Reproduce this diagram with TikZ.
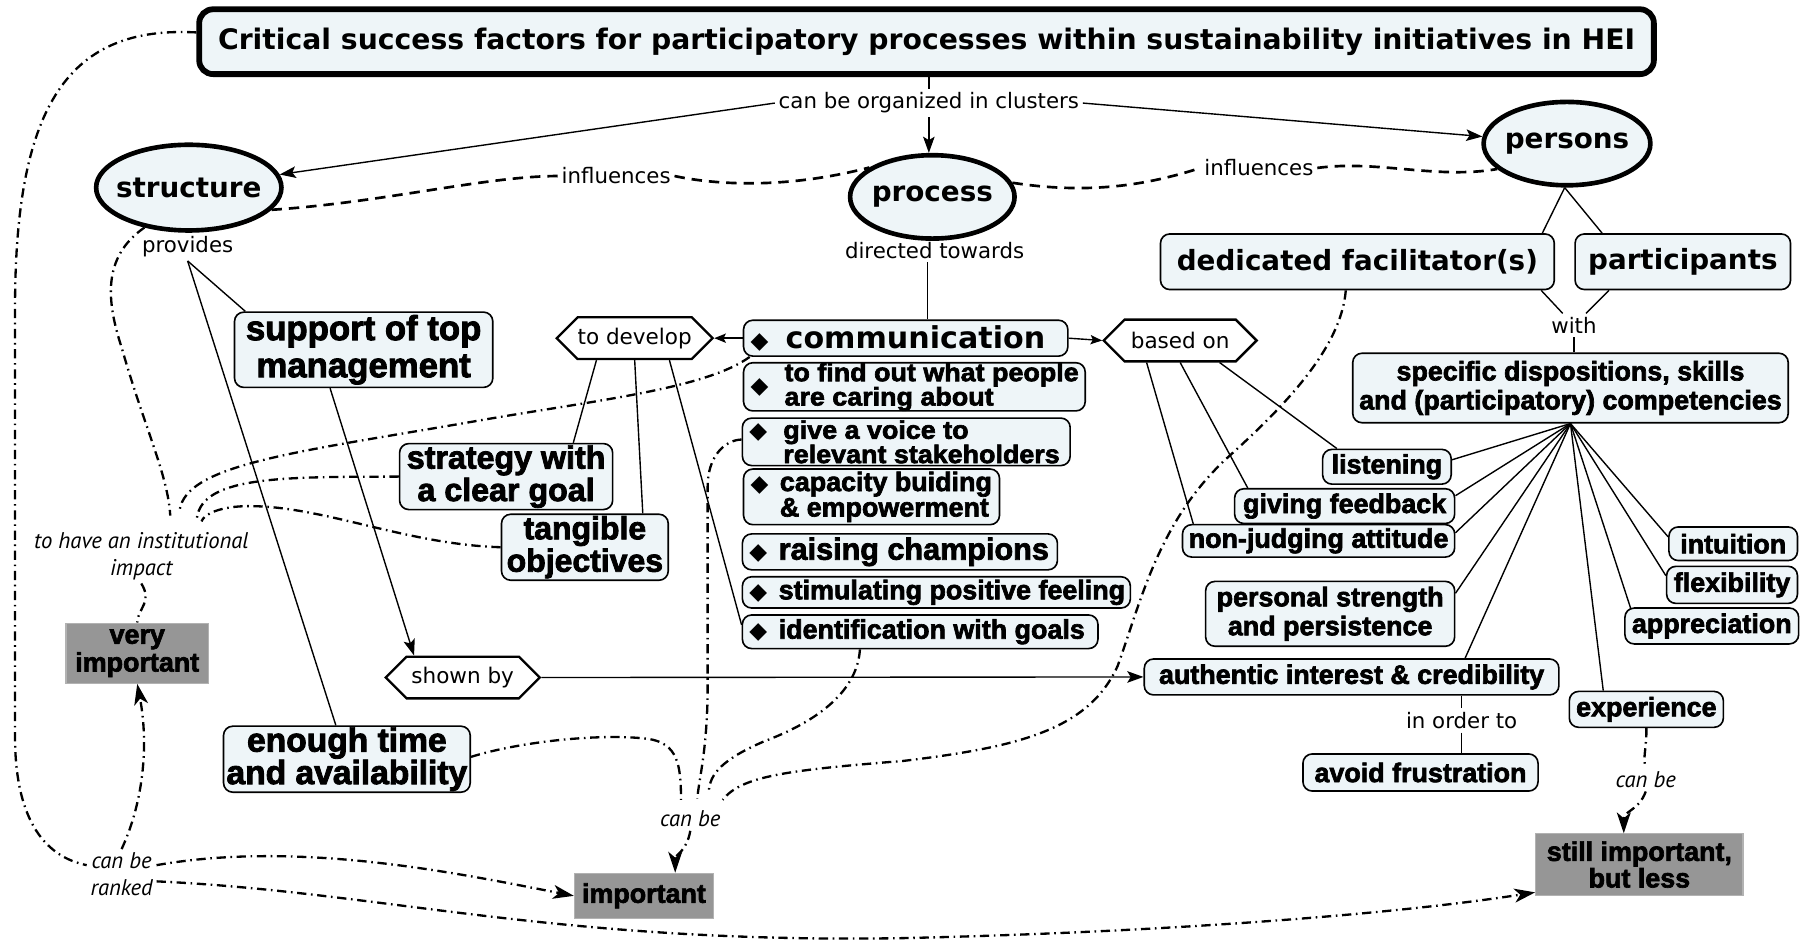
\documentclass[tikz,border=0pt]{standalone}
\usepackage{fontspec}
\setmainfont{DejaVu Sans}
\newfontfamily\dvs{DejaVu Sans}
\newfontfamily\lib[BoldFeatures={FakeBold=2.5}]{Liberation Sans}
\newfontfamily\libw[BoldFeatures={FakeBold=2.5,FakeStretch=1.055}]{Liberation Sans}
\newfontfamily\pts{PT Sans}
\usetikzlibrary{shapes.geometric,shapes.symbols,arrows.meta,calc}
\definecolor{boxfill}{RGB}{238,245,248}
\definecolor{gboxc}{RGB}{150,150,150}
\newcommand{\myfs}[2]{\fontsize{#1}{#2}\selectfont}
\newcommand{\mybul}{{\dvs\fontsize{10}{10}\selectfont ◆}}
\newcommand{\bline}[3]{\makebox[#1][l]{\hspace*{3pt}\mybul\hspace{#2}#3}}
\newcommand{\btwo}[6]{\makebox[#1][l]{\hspace*{3pt}\mybul\hspace{#2}\parbox[#4]{150pt}{\raggedright\myfs{11.6}{#3}\lineskiplimit=-20pt\relax #5\\#6}}}
\newcommand{\btwow}[6]{\makebox[#1][l]{\hspace*{3pt}\mybul\hspace{#2}\parbox[#4]{150pt}{\raggedright\libw\myfs{11}{#3}\lineskiplimit=-20pt\relax #5\\#6}}}
\begin{document}
\begin{tikzpicture}[x=0.5pt,y=-0.5pt,
 ttl/.style={draw, line width=2.5pt, rounded corners=6pt, fill=boxfill, inner sep=0pt, font=\dvs\bfseries\myfs{12.2}{14}},
 ell/.style={ellipse, draw, line width=2pt, fill=boxfill, inner sep=0pt, font=\dvs\bfseries\myfs{12}{14}},
 bx/.style={draw, line width=0.7pt, rounded corners=4pt, fill=boxfill, inner sep=0pt, align=center, font=\lib\bfseries\myfs{11.6}{12.5}},
 dbx/.style={bx, font=\dvs\bfseries\myfs{12}{14}},
 gbx/.style={fill=gboxc, draw=gray!60, line width=0.5pt, inner sep=0pt, align=center, font=\lib\bfseries\myfs{11.6}{12}},
 hexa/.style={signal, signal to=west and east, signal pointer angle=90, draw, line width=1pt, fill=white, inner sep=0pt, font=\dvs\myfs{9.3}{11}},
 lbl/.style={inner sep=1.5pt, font=\dvs\myfs{9.2}{11}},
 ilbl/.style={inner sep=1.5pt, align=center, font=\pts\itshape\myfs{9.8}{11.5}},
 conn/.style={line width=0.6pt},
 arr/.style={conn, -{Stealth[length=7pt,width=5pt,inset=1.5pt]}},
 sarr/.style={conn, -{Stealth[length=5pt,width=4pt,inset=1pt]}},
 infl/.style={line width=1.15pt, dash pattern=on 4.5pt off 3pt},
 dd/.style={line width=1pt, dash pattern=on 4pt off 2pt on 0.7pt off 2pt},
 ddarr/.style={dd, -{Stealth[length=9pt,width=6pt,inset=2.5pt]}}]
\useasboundingbox (0,0) rectangle (1568,818);

% ---------- nodes ----------
\node[ttl, minimum width=628pt, minimum height=28pt] (title) at (800,36) {Critical success factors for participatory processes within sustainability initiatives in HEI};
\node[lbl] (clus) at (802,89) {can be organized in clusters};
\node[ell, minimum width=80pt, minimum height=37pt] (structure) at (163,162) {\makebox[0pt]{structure}};
\node[ell, minimum width=71pt, minimum height=36pt] (process) at (805,170) {\makebox[0pt]{process}};
\node[ell, minimum width=72pt, minimum height=36pt] (persons) at (1353,124) {\makebox[0pt]{persons}};
\node[lbl] (infl1) at (532,152) {influences};
\node[lbl] (infl2) at (1087,145) {influences};
\node[lbl] (provides) at (162,213) {provides};
\node[lbl] (directed) at (807,216) {directed towards};
\node[dbx, minimum width=170pt, minimum height=24pt] (dedic) at (1172,226) {dedicated facilitator(s)};
\node[dbx, minimum width=93pt, minimum height=24pt] (partic) at (1453,226) {participants};
\node[lbl] (with) at (1359,281) {with};
\node[bx, minimum width=188pt, minimum height=30pt] (spec) at (1356,335) {specific dispositions, skills\\and (participatory) competencies};
\node[bx, minimum width=111.5pt, minimum height=32.5pt, font=\lib\bfseries\myfs{15}{16}] (support) at (314,302) {support of top\\management};
\node[hexa, minimum width=66.5pt, minimum height=18pt] (todev) at (548,292) {to develop};
\node[bx, minimum width=140pt, minimum height=15.5pt] (comm) at (782,292) {\bline{140pt}{7.5pt}{{\dvs\myfs{13}{15}communication}}};
\node[hexa, minimum width=66pt, minimum height=18pt] (basedon) at (1019,294) {based on};
\node[bx, minimum width=147.5pt, minimum height=20.5pt] (find) at (789.5,334) {\btwow{147.5pt}{7pt}{10.5}{c}{to find out what people}{are caring about}};
\node[bx, minimum width=141.5pt, minimum height=20.5pt] (voice) at (782.5,381.5) {\btwow{141.5pt}{7pt}{10.5}{t}{give a voice to}{relevant stakeholders}};
\node[bx, minimum width=110.5pt, minimum height=24pt] (capac) at (752.5,429) {\btwo{110.5pt}{5pt}{11}{t}{capacity buiding}{\& empowerment}};
\node[bx, minimum width=136pt, minimum height=15.5pt] (raising) at (777,476.5) {\bline{136pt}{5pt}{{\myfs{13.2}{15}raising champions}}};
\node[bx, minimum width=167.5pt, minimum height=13.5pt] (stimul) at (808.5,511.5) {\bline{167.5pt}{5pt}{stimulating positive feeling}};
\node[bx, minimum width=153.5pt, minimum height=14.5pt] (ident) at (794.5,545.5) {\bline{153.5pt}{5pt}{identification with goals}};
\node[bx, minimum width=92pt, minimum height=28.5pt, font=\lib\bfseries\myfs{13.9}{14}] (strategy) at (437,411.5) {strategy with\\a clear goal};
\node[bx, minimum width=72pt, minimum height=28.5pt, font=\lib\bfseries\myfs{13.8}{14}] (tangible) at (505,472.5) {tangible\\objectives};
\node[bx, minimum width=55.5pt, minimum height=15pt] (listening) at (1197.5,403) {listening};
\node[bx, minimum width=95pt, minimum height=15pt] (feedback) at (1161,437) {giving feedback};
\node[bx, minimum width=117.5pt, minimum height=14pt] (nonjudg) at (1138.5,467) {non-judging attitude};
\node[bx, minimum width=107.5pt, minimum height=28pt] (personal) at (1148.5,530) {personal strength\\and persistence};
\node[bx, minimum width=179pt, minimum height=15.5pt] (authentic) at (1167,584.5) {authentic interest \& credibility};
\node[lbl] (inorder) at (1262,622) {in order to};
\node[bx, minimum width=101.5pt, minimum height=16pt] (avoid) at (1226.5,667) {avoid frustration};
\node[bx, minimum width=55.5pt, minimum height=14.5pt] (intuition) at (1496.5,469.5) {intuition};
\node[bx, minimum width=56.5pt, minimum height=16pt] (flexib) at (1495.5,505) {flexibility};
\node[bx, minimum width=75pt, minimum height=15.5pt] (apprec) at (1478,540.5) {appreciation};
\node[bx, minimum width=66.5pt, minimum height=15.5pt] (experience) at (1421.5,612.5) {experience};
\node[ilbl] (canbe3) at (1421,673) {can be};
\node[gbx, minimum width=89.5pt, minimum height=26.5pt, font=\lib\bfseries\myfs{11.6}{11.5}] (still) at (1415.5,746.5) {still important,\\but less};
\node[hexa, minimum width=66.5pt, minimum height=18pt] (shownby) at (399.5,585) {shown by};
\node[bx, minimum width=106.5pt, minimum height=28.5pt, font=\lib\bfseries\myfs{14.5}{14}] (enough) at (299.5,655.5) {enough time\\and availability};
\node[gbx, minimum width=61.5pt, minimum height=26pt] (veryimp) at (118.5,564) {very\\important};
\node[gbx, minimum width=60pt, minimum height=19.5pt] (important) at (556,773.5) {important};
\node[ilbl] (impact) at (122,480) {to have an institutional\\impact};
\node[ilbl] (ranked) at (105,755) {can be\\ranked};
\node[ilbl] (canbe2) at (596,707) {can be};

% ---------- solid connectors ----------
\draw[conn] (clus.north |- title.south) -- (clus.north);
\draw[arr] (clus.south) -- (clus.south |- process.north);
\draw[arr] (clus.west) -- (structure);
\draw[arr] (clus.east) -- (persons);
\draw[conn] (provides.south) -- ([xshift=5pt]support.north west);
\draw[conn] (provides.south) -- ([xshift=-4.75pt]enough.north);
\draw[conn] ([xshift=-3pt]directed.south) -- ([xshift=-3pt]directed.south |- comm.north);
\draw[sarr] (comm.west) -- (todev.east);
\draw[sarr] (comm.east) -- (basedon.west);
\draw[conn] ([xshift=-16.5pt]todev.south) -- ([xshift=29pt]strategy.north);
\draw[conn] (todev.south) -- ([xshift=25pt]tangible.north);
\draw[conn] ([xshift=15pt]todev.south) -- ([yshift=3pt]ident.west);
\draw[conn] ([xshift=17pt]basedon.south) -- ([xshift=6.5pt]listening.north west);
\draw[conn] (basedon.south) -- ([xshift=6pt]feedback.north west);
\draw[conn] ([xshift=-14.5pt]basedon.south) -- ([xshift=5pt]nonjudg.north west);
\draw[conn] ([xshift=-1pt]persons.south) -- ([xshift=-5.5pt]dedic.north east);
\draw[conn] ([xshift=-1pt]persons.south) -- ([xshift=12pt]partic.north west);
\draw[conn] ([xshift=-6pt]dedic.south east) -- (with);
\draw[conn] ([xshift=15pt]partic.south west) -- (with);
\draw[conn] (with) -- (with |- spec.north);
\draw[conn] (spec.south) -- ([yshift=3pt]listening.east);
\draw[conn] (spec.south) -- ([yshift=4.5pt]feedback.east);
\draw[conn] (spec.south) -- ([yshift=3.5pt]nonjudg.east);
\draw[conn] (spec.south) -- ([yshift=-5.5pt]personal.north east);
\draw[conn] (spec.south) -- ([xshift=49pt]authentic.north);
\draw[conn] (spec.south) -- ([xshift=15pt]experience.north west);
\draw[conn] (spec.south) -- ([xshift=3pt,yshift=-1pt]apprec.north west);
\draw[conn] (spec.south) -- ([yshift=4pt]flexib.west);
\draw[conn] (spec.south) -- ([yshift=3pt]intuition.west);
\draw[arr] ([xshift=-14.5pt]support.south) -- ([xshift=-21pt]shownby.north);
\draw[arr] (shownby.east) -- (authentic.west);
\draw[conn] ([xshift=47.5pt]authentic.south) -- (inorder);
\draw[conn] (inorder) -- (inorder |- avoid.north);

% ---------- dashed influences ----------
\draw[infl] (structure.345) .. controls (330,175) and (420,152) .. (infl1.west);
\draw[infl] (infl1.east) .. controls (620,160) and (680,163) .. (process.155);
\draw[infl] (process.10) .. controls (940,168) and (990,160) .. (infl2.west);
\draw[infl] (infl2.east) .. controls (1190,138) and (1240,155) .. (persons.200);

% ---------- dash-dotted ----------
\draw[dd] ([yshift=4pt]title.west) .. controls (60,22) and (14,90) .. (13,260) -- (13,640) .. controls (14,710) and (40,740) .. ($(ranked.west)+(0,-8)$);
\draw[ddarr] (ranked.north) .. controls (125,690) and (128,640) .. (veryimp.south);
\draw[ddarr] ($(ranked.east)+(0,-8)$) .. controls (260,725) and (400,755) .. (important.west);
\draw[ddarr] ($(ranked.east)+(0,6)$) .. controls (330,770) and (480,815) .. (780,810) .. controls (1000,805) and (1200,790) .. ($(still.south west)+(0,-3)$);

\draw[dd] (structure.222) .. controls (88,222) and (92,260) .. (105,300) .. controls (125,370) and (145,410) .. ($(impact.north)+(25,-11)$);
\draw[dd] ([xshift=3pt]comm.south west) .. controls (610,335) and (520,345) .. (420,362) .. controls (260,390) and (160,400) .. ($(impact.north)+(33,-15)$);
\draw[dd] (strategy.west) .. controls (250,412) and (175,410) .. ($(impact.north)+(48,-9)$);
\draw[dd] (tangible.west) .. controls (350,470) and (280,437) .. (215,437) .. controls (190,437) and (176,444) .. ($(impact.north)+(52,-6)$);
\draw[dd] (impact.south) .. controls (132,520) and (119,525) .. (veryimp.north);

\draw[dd] ([yshift=1pt]enough.east) .. controls (450,640) and (520,633) .. (560,638) .. controls (585,642) and (588,660) .. ($(canbe2.north)+(-8,-6)$);
\draw[dd] ([yshift=1pt]voice.west) .. controls (625,380) and (611,395) .. (611,420) -- (611,600) .. controls (610,650) and (604,670) .. ($(canbe2.north)+(6,-7)$);
\draw[dd] ([xshift=-26pt]ident.south) .. controls (740,600) and (700,625) .. (660,640) .. controls (625,655) and (612,668) .. ($(canbe2.north)+(16,-12)$);
\draw[dd] ([xshift=-5pt]dedic.south) .. controls (1158,300) and (1110,350) .. (1060,395) .. controls (1000,450) and (985,520) .. (965,575) .. controls (940,630) and (880,645) .. (780,657) .. controls (680,665) and (640,670) .. ($(canbe2.north)+(28,-6)$);
\draw[ddarr] (canbe2.south) .. controls (593,735) and (583,738) .. ([xshift=13.5pt]important.north);

\draw[dd] (experience.south) .. controls (1422,645) and (1418,655) .. (canbe3.north);
\draw[ddarr] (canbe3.south) .. controls (1415,700) and (1402,700) .. ([xshift=-6.75pt]still.north);
\end{tikzpicture}
\end{document}
